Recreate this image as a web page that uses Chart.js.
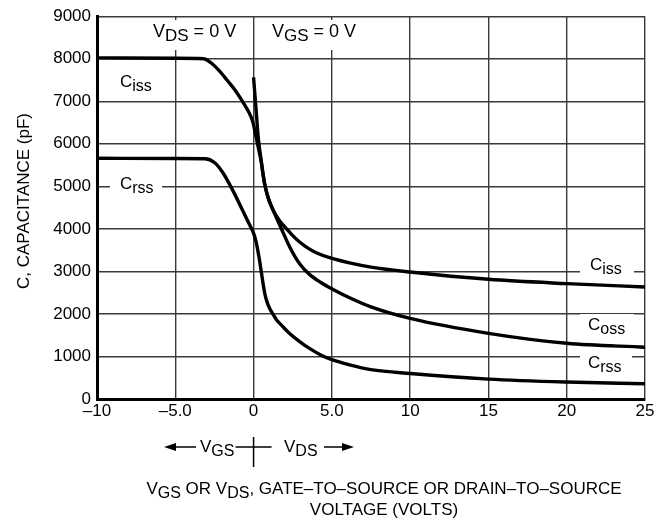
<!DOCTYPE html>
<html>
<head>
<meta charset="utf-8">
<script src="https://cdn.jsdelivr.net/npm/chart.js@4.4.1/dist/chart.umd.min.js"></script>
<style>
  html, body { margin: 0; padding: 0; background: #fff; overflow: hidden; }
  #wrap { width: 657px; height: 522px; position: relative; }
</style>
</head>
<body>
<div id="wrap"><canvas id="capChart"></canvas></div>
<script>
// capacitance vs voltage
const cissV = [-10, -5, -3.2, -2.7, -2.2, -1.7, -1.2, -0.7, -0.3, -0.05, 0.15, 0.35, 0.5, 0.7, 0.95, 1.25, 1.66, 2.08, 2.5, 2.94, 3.5, 4.0, 4.96, 6.13, 7.5, 10, 15, 20, 25];
const cissC = [8020, 8010, 8000, 7900, 7720, 7500, 7270, 6990, 6740, 6520, 6180, 5830, 5560, 5060, 4720, 4440, 4194, 4014, 3840, 3690, 3540, 3440, 3310, 3200, 3100, 2985, 2814, 2713, 2634];

const cossV = [0, 0.15, 0.3, 0.45, 0.6, 0.75, 0.95, 1.2, 1.45, 1.77, 2.3, 2.94, 3.57, 4.3, 4.96, 6.13, 7.5, 10, 15, 20, 25];
const cossC = [7560, 6850, 6140, 5700, 5290, 4990, 4700, 4480, 4270, 4010, 3580, 3180, 2930, 2740, 2600, 2380, 2166, 1895, 1544, 1310, 1216];

const crssV = [-10, -5, -3.1, -2.5, -1.96, -1.32, -0.68, -0.3, 0, 0.17, 0.38, 0.49, 0.6, 0.7, 0.81, 1.0, 1.23, 1.45, 1.87, 2.3, 2.94, 3.57, 4.32, 4.96, 6.13, 7.5, 10, 15, 20, 25];
const crssC = [5660, 5655, 5650, 5560, 5320, 4900, 4420, 4130, 3900, 3680, 3260, 3000, 2730, 2510, 2340, 2150, 2000, 1870, 1700, 1540, 1350, 1190, 1030, 930, 802, 690, 600, 468, 398, 358];

const xTickValues = [-10, -5, 0, 5, 10, 15, 20, 25];
const xTickText = ['\u201310', '\u20135.0', '0', '5.0', '10', '15', '20', '25'];

const FONT = 'Arial, "Liberation Sans", sans-serif';

function toPoints(xs, ys) {
  return xs.map((v, i) => ({ x: v, y: ys[i] }));
}

// text with subscripts: parts = [[text, isSub], ...]
function subWidth(ctx, parts, size) {
  let w = 0;
  parts.forEach(p => {
    ctx.font = (p[1] ? size - 1 : size) + 'px ' + FONT;
    w += ctx.measureText(p[0]).width;
  });
  return w;
}
function drawSub(ctx, x, y, parts, size, align) {
  let w = subWidth(ctx, parts, size);
  let cx = align === 'center' ? x - w / 2 : x;
  ctx.textBaseline = 'alphabetic';
  ctx.textAlign = 'left';
  ctx.fillStyle = '#000';
  parts.forEach(p => {
    ctx.font = (p[1] ? size - 1 : size) + 'px ' + FONT;
    ctx.fillText(p[0], cx, p[1] ? y + 4 : y);
    cx += ctx.measureText(p[0]).width;
  });
  return w;
}
function curveLabel(ctx, x, y, parts, boxL, boxR) {
  ctx.fillStyle = '#fff';
  ctx.fillRect(boxL, y - 16, boxR - boxL, 24);
  drawSub(ctx, x, y, parts, 17, 'left');
}
function arrow(ctx, x1, x2, y) {
  const dir = x2 > x1 ? 1 : -1;
  ctx.beginPath();
  ctx.moveTo(x1, y);
  ctx.lineTo(x2 - dir * 8, y);
  ctx.lineWidth = 1.5;
  ctx.strokeStyle = '#000';
  ctx.stroke();
  ctx.beginPath();
  ctx.moveTo(x2, y);
  ctx.lineTo(x2 - dir * 12, y - 4);
  ctx.lineTo(x2 - dir * 12, y + 4);
  ctx.closePath();
  ctx.fillStyle = '#000';
  ctx.fill();
}

const annotations = {
  id: 'annotations',
  afterDraw(chart) {
    const ctx = chart.ctx;
    const xs = chart.scales.x;
    ctx.save();

    // condition labels
    ctx.fillStyle = '#fff';
    ctx.fillRect(150, 20, 94, 30);
    drawSub(ctx, 153, 37, [['V', 0], ['DS', 1], [' = 0 V', 0]], 18, 'left');
    ctx.fillStyle = '#fff';
    ctx.fillRect(268, 20, 94, 30);
    drawSub(ctx, 272, 37, [['V', 0], ['GS', 1], [' = 0 V', 0]], 18, 'left');

    // curve names
    curveLabel(ctx, 120, 87, [['C', 0], ['iss', 1]], 112, 162);
    curveLabel(ctx, 120, 189, [['C', 0], ['rss', 1]], 110, 162);
    curveLabel(ctx, 590, 270, [['C', 0], ['iss', 1]], 580, 634);
    curveLabel(ctx, 588, 330, [['C', 0], ['oss', 1]], 580, 634);
    curveLabel(ctx, 588, 368, [['C', 0], ['rss', 1]], 580, 632);

    // VGS / VDS direction marks under the axis
    const x0 = xs.getPixelForValue(0);
    const rowY = 447;
    arrow(ctx, 196, 164, rowY);
    drawSub(ctx, 200, rowY + 5, [['V', 0], ['GS', 1]], 17, 'left');
    ctx.beginPath();
    ctx.moveTo(x0 - 18, rowY);
    ctx.lineTo(x0 + 18, rowY);
    ctx.moveTo(x0, rowY - 10);
    ctx.lineTo(x0, rowY + 20);
    ctx.lineWidth = 1.5;
    ctx.strokeStyle = '#000';
    ctx.stroke();
    drawSub(ctx, 284, rowY + 5, [['V', 0], ['DS', 1]], 17, 'left');
    arrow(ctx, 324, 354, rowY);

    // x axis title
    drawSub(ctx, 384, 494, [['V', 0], ['GS', 1], [' OR V', 0], ['DS', 1], [', GATE\u2013TO\u2013SOURCE OR DRAIN\u2013TO\u2013SOURCE', 0]], 17, 'center');
    ctx.font = '17px ' + FONT;
    ctx.textAlign = 'center';
    ctx.fillText('VOLTAGE (VOLTS)', 384, 515);

    // y axis title
    ctx.translate(29, 201);
    ctx.rotate(-Math.PI / 2);
    ctx.font = '17px ' + FONT;
    ctx.textAlign = 'center';
    ctx.textBaseline = 'alphabetic';
    ctx.fillText('C, CAPACITANCE (pF)', 0, 0);
    ctx.restore();
  }
};

const lineStyle = {
  showLine: true,
  borderColor: '#000',
  backgroundColor: '#000',
  borderWidth: 3.4,
  pointRadius: 0,
  cubicInterpolationMode: 'monotone',
  fill: false
};

new Chart(document.getElementById('capChart').getContext('2d'), {
  type: 'scatter',
  data: {
    datasets: [
      Object.assign({ label: 'Ciss', data: toPoints(cissV, cissC) }, lineStyle),
      Object.assign({ label: 'Coss', data: toPoints(cossV, cossC) }, lineStyle),
      Object.assign({ label: 'Crss', data: toPoints(crssV, crssC) }, lineStyle)
    ]
  },
  options: {
    responsive: true,
    maintainAspectRatio: false,
    animation: false,
    layout: { padding: { left: 0, top: 15, right: 12, bottom: 0 } },
    plugins: {
      legend: { display: false },
      tooltip: { enabled: false }
    },
    scales: {
      x: {
        type: 'linear',
        min: -10,
        max: 25,
        afterBuildTicks: (scale) => { scale.ticks = xTickValues.map(v => ({ value: v })); },
        afterFit: (scale) => { scale.height = 123; },
        ticks: {
          color: '#000',
          font: { family: FONT, size: 17 },
          padding: 2,
          maxRotation: 0,
          callback: (value) => {
            const i = xTickValues.indexOf(value);
            return i >= 0 ? xTickText[i] : '';
          }
        },
        grid: { color: '#3a3a3a', lineWidth: 1.4, drawTicks: false },
        border: { display: true, color: '#000', width: 3 }
      },
      y: {
        type: 'linear',
        min: 0,
        max: 9000,
        afterFit: (scale) => { scale.width = 97; },
        ticks: {
          stepSize: 1000,
          color: '#000',
          font: { family: FONT, size: 17 },
          padding: 6,
          callback: (value) => String(value)
        },
        grid: { color: '#3a3a3a', lineWidth: 1.4, drawTicks: false },
        border: { display: true, color: '#000', width: 3 }
      }
    }
  },
  plugins: [annotations]
});
</script>
</body>
</html>
